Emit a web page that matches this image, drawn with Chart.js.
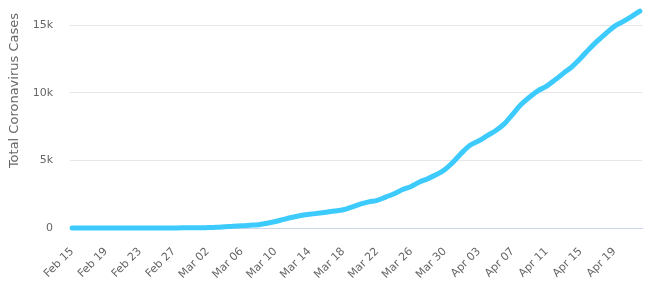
<!DOCTYPE html>
<html>
<head>
<meta charset="utf-8">
<script src="https://cdn.jsdelivr.net/npm/chart.js@4.4.1/dist/chart.umd.min.js"></script>
<style>
  html, body { margin: 0; padding: 0; background: #ffffff; }
  #wrap { width: 648px; height: 287px; }
</style>
</head>
<body>
<div id="wrap"><canvas id="c" width="648" height="287"></canvas></div>
<script>
// ---- data ----
const categories = [
  'Feb 15','Feb 16','Feb 17','Feb 18','Feb 19','Feb 20','Feb 21','Feb 22','Feb 23','Feb 24',
  'Feb 25','Feb 26','Feb 27','Feb 28','Feb 29','Mar 01','Mar 02','Mar 03','Mar 04','Mar 05',
  'Mar 06','Mar 07','Mar 08','Mar 09','Mar 10','Mar 11','Mar 12','Mar 13','Mar 14','Mar 15',
  'Mar 16','Mar 17','Mar 18','Mar 19','Mar 20','Mar 21','Mar 22','Mar 23','Mar 24','Mar 25',
  'Mar 26','Mar 27','Mar 28','Mar 29','Mar 30','Mar 31','Apr 01','Apr 02','Apr 03','Apr 04',
  'Apr 05','Apr 06','Apr 07','Apr 08','Apr 09','Apr 10','Apr 11','Apr 12','Apr 13','Apr 14',
  'Apr 15','Apr 16','Apr 17','Apr 18','Apr 19','Apr 20','Apr 21','Apr 22'
];
const totalCases = [
  1, 1, 1, 1, 1, 1, 1, 1, 1, 1,
  1, 2, 7, 12, 14, 15, 30, 52, 94, 137,
  161, 203, 248, 355, 480, 640, 790, 920, 1010, 1090,
  1170, 1250, 1350, 1550, 1763, 1934, 2046, 2286, 2526, 2840,
  3069, 3400, 3650, 3950, 4330, 4900, 5568, 6131, 6443, 6830,
  7206, 7693, 8419, 9141, 9685, 10151, 10483, 10948, 11445, 11927,
  12540, 13216, 13822, 14385, 14900, 15250, 15620, 16030
];
const xTickLabels = ['Feb 15','Feb 19','Feb 23','Feb 27','Mar 02','Mar 06','Mar 10','Mar 14',
  'Mar 18','Mar 22','Mar 26','Mar 30','Apr 03','Apr 07','Apr 11','Apr 15','Apr 19'];
const yTickValues = [0, 5000, 10000, 15000];
const yTickLabels = ['0', '5k', '10k', '15k'];
const yAxisTitle = 'Total Coronavirus Cases';

// ---- chart ----
const FONT = "'DejaVu Sans', 'Lucida Grande', sans-serif";
const points = totalCases.map((v, i) => ({ x: i, y: v }));

new Chart(document.getElementById('c'), {
  type: 'line',
  data: {
    datasets: [{
      data: points,
      borderColor: '#3ccbfc',
      borderWidth: 5,
      borderCapStyle: 'round',
      borderJoinStyle: 'round',
      pointRadius: 0,
      pointHoverRadius: 0,
      cubicInterpolationMode: 'monotone',
      fill: false,
      clip: false
    }]
  },
  options: {
    responsive: false,
    animation: false,
    devicePixelRatio: 1,
    layout: { padding: { top: 13, right: 6, left: 0, bottom: 0 } },
    plugins: { legend: { display: false }, tooltip: { enabled: false } },
    scales: {
      x: {
        type: 'linear',
        min: -0.25,
        max: categories.length - 1 + 0.25,
        afterBuildTicks: s => { s.ticks = xTickLabels.map(l => ({ value: categories.indexOf(l) })); },
        afterFit: s => { s.height = 59; s.paddingTop = 0; s.paddingBottom = 0; s.paddingLeft = 0; s.paddingRight = 0; },
        grid: { display: false, drawTicks: false },
        border: { display: true, color: '#ccd6eb', width: 1 },
        ticks: {
          autoSkip: false,
          minRotation: 45,
          maxRotation: 45,
          padding: 17,
          color: '#666666',
          font: { family: FONT, size: 11 },
          callback: v => categories[v]
        }
      },
      y: {
        min: 0,
        max: 15887,
        afterBuildTicks: s => { s.ticks = yTickValues.map(v => ({ value: v })); },
        afterFit: s => { s.width = 70; s.paddingTop = 0; s.paddingBottom = 0; s.paddingLeft = 0; s.paddingRight = 0; },
        grid: {
          drawTicks: false,
          color: ctx => (ctx.tick && ctx.tick.value === 0) ? 'rgba(0,0,0,0)' : '#e6e6e6'
        },
        border: { display: false },
        ticks: {
          padding: 17,
          color: '#666666',
          font: { family: FONT, size: 11 },
          callback: v => yTickLabels[yTickValues.indexOf(v)]
        },
        title: {
          display: true,
          text: yAxisTitle,
          align: 'end',
          color: '#666666',
          font: { family: FONT, size: 13, weight: 'normal' },
          padding: { top: 7, bottom: 0 }
        }
      }
    }
  }
});
</script>
</body>
</html>
